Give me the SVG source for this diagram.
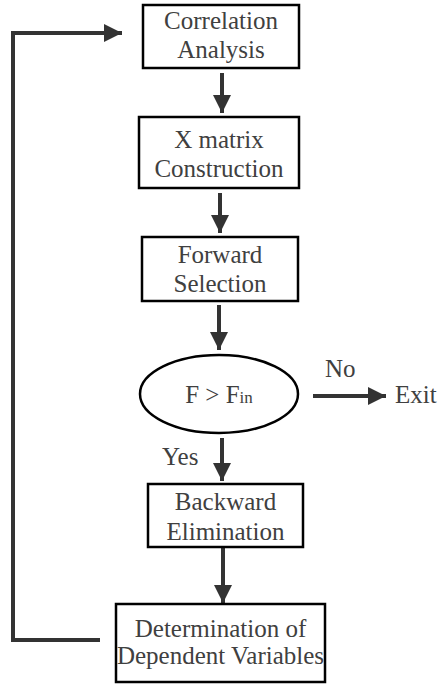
<svg xmlns="http://www.w3.org/2000/svg" width="440" height="684" viewBox="0 0 440 684">
  <style>
    .box { fill: #ffffff; stroke: #000000; stroke-width: 2.5; }
    .lbl { font-family: 'Times New Roman', 'Liberation Serif', Tinos, 'DejaVu Serif', serif; font-size: 25px; fill: #404040; text-anchor: middle; }
    .side { font-family: 'Times New Roman', 'Liberation Serif', Tinos, 'DejaVu Serif', serif; font-size: 25px; fill: #404040; }
    .conn { fill: none; stroke: #333333; stroke-width: 4; }
  </style>
  <defs>
    <marker id="head" markerUnits="userSpaceOnUse" markerWidth="18" markerHeight="18" refX="18" refY="9" orient="auto">
      <path d="M0,0 L18,9 L0,18 Z" fill="#333333"/>
    </marker>
  </defs>
  <rect width="440" height="684" fill="#ffffff"/>

  <g id="connectors">
    <line class="conn" x1="222" y1="73" x2="222" y2="113" marker-end="url(#head)"/>
    <line class="conn" x1="220" y1="193" x2="220" y2="233" marker-end="url(#head)"/>
    <line class="conn" x1="219" y1="305" x2="219" y2="350" marker-end="url(#head)"/>
    <line class="conn" x1="222" y1="438" x2="222" y2="481" marker-end="url(#head)"/>
    <line class="conn" x1="223" y1="548" x2="223" y2="603" marker-end="url(#head)"/>
    <line class="conn" x1="313" y1="396" x2="386" y2="396" marker-end="url(#head)"/>
    <path class="conn" d="M100,640 H13 V33 H122" marker-end="url(#head)"/>
    <text class="side" x="325" y="377">No</text>
    <text class="side" x="162" y="465">Yes</text>
  </g>

  <g id="correlation">
    <rect class="box" x="143" y="5" width="156" height="63"/>
    <text class="lbl" x="221" y="29">Correlation</text>
    <text class="lbl" x="221" y="58">Analysis</text>
  </g>

  <g id="xmatrix">
    <rect class="box" x="139" y="117" width="160" height="71"/>
    <text class="lbl" x="219" y="148">X matrix</text>
    <text class="lbl" x="219" y="177">Construction</text>
  </g>

  <g id="forward">
    <rect class="box" x="142" y="237" width="156" height="64"/>
    <text class="lbl" x="220" y="263">Forward</text>
    <text class="lbl" x="220" y="292">Selection</text>
  </g>

  <g id="decision">
    <ellipse cx="219" cy="394" rx="79" ry="39" fill="#ffffff" stroke="#000000" stroke-width="2.5"/>
    <text class="lbl" x="219" y="403">F &gt; F<tspan font-size="17px">in</tspan></text>
  </g>

  <g id="exit">
    <text class="side" x="395" y="403">Exit</text>
  </g>

  <g id="backward">
    <rect class="box" x="148" y="484" width="155" height="63"/>
    <text class="lbl" x="225.5" y="510">Backward</text>
    <text class="lbl" x="225.5" y="540">Elimination</text>
  </g>

  <g id="determination">
    <rect class="box" x="116" y="604" width="209" height="78"/>
    <text class="lbl" x="220.5" y="637">Determination of</text>
    <text class="lbl" x="220.5" y="664">Dependent Variables</text>
  </g>
</svg>
